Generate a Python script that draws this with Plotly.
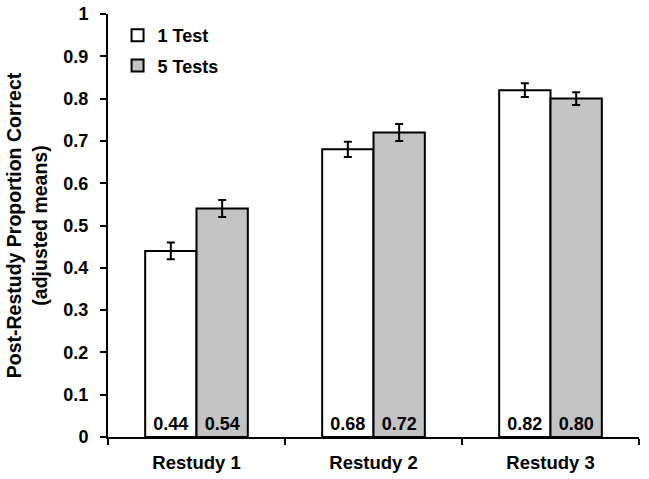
import plotly.graph_objects as go

categories = ["Restudy 1", "Restudy 2", "Restudy 3"]
one_test = [0.44, 0.68, 0.82]
five_tests = [0.54, 0.72, 0.80]
one_test_err = [0.02, 0.018, 0.016]
five_tests_err = [0.02, 0.02, 0.015]
one_test_labels = ["0.44", "0.68", "0.82"]
five_tests_labels = ["0.54", "0.72", "0.80"]

FONT = "Liberation Sans"

fig = go.Figure()
fig.add_trace(go.Bar(
    name="1 Test", x=categories, y=one_test, legendgroup="a",
    marker=dict(color="white", line=dict(color="black", width=2)),
    error_y=dict(type="data", array=one_test_err, color="black", thickness=2, width=4),
    text=one_test_labels, textposition="inside", insidetextanchor="start",
    textangle=0, constraintext="none",
    textfont=dict(family=FONT, size=18, color="black", weight="bold"),
))
fig.add_trace(go.Bar(
    name="5 Tests", x=categories, y=five_tests, legendgroup="b",
    marker=dict(color="#c3c3c3", line=dict(color="black", width=2)),
    error_y=dict(type="data", array=five_tests_err, color="black", thickness=2, width=4),
    text=five_tests_labels, textposition="inside", insidetextanchor="start",
    textangle=0, constraintext="none",
    textfont=dict(family=FONT, size=18, color="black", weight="bold"),
))

fig.update_layout(
    width=649, height=479,
    margin=dict(l=108, r=10, t=14, b=42, autoexpand=False),
    paper_bgcolor="white", plot_bgcolor="white",
    barmode="group", bargap=0.42, bargroupgap=0,
    font=dict(family=FONT, size=18, color="black"),
    showlegend=True,
    legend=dict(x=0.018, y=0.993, xanchor="left", yanchor="top",
                bgcolor="rgba(0,0,0,0)", traceorder="grouped", tracegroupgap=4,
                font=dict(family=FONT, size=18, color="black", weight="bold"),
                itemwidth=30),
    uniformtext=dict(minsize=18, mode="show"),
)
fig.update_xaxes(
    range=[-0.5, 2.5], showline=True, linecolor="black", linewidth=2,
    ticks="outside", tickson="boundaries", ticklen=6, tickwidth=2, tickcolor="black",
    tickfont=dict(family=FONT, size=18.5, color="black", weight="bold"),
    ticklabelstandoff=8, automargin=False,
    showgrid=False, zeroline=False,
)
fig.update_yaxes(
    range=[0, 1], dtick=0.1, showline=True, linecolor="black", linewidth=2,
    ticks="outside", ticklen=6, tickwidth=2, tickcolor="black",
    tickfont=dict(family=FONT, size=18, color="black", weight="bold"),
    ticklabelstandoff=8, automargin=False,
    showgrid=False, zeroline=False,
    title=dict(text="Post-Restudy Proportion Correct<br>(adjusted means)",
               font=dict(family=FONT, size=19.5, color="black", weight="bold"),
               standoff=11),
)

fig.write_html("out.html",
               config={"displayModeBar": False},
               post_script="document.body.style.margin='0';document.body.style.padding='0';")
